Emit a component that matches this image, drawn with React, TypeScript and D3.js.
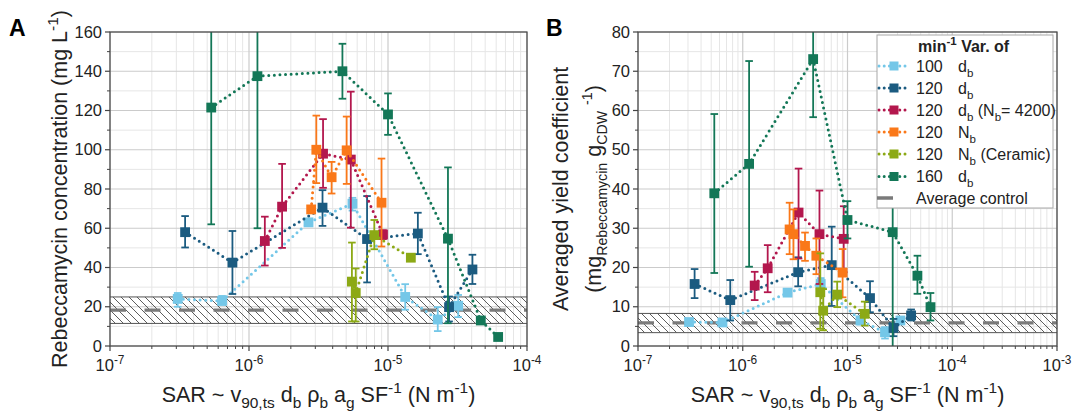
import React from 'react';
import * as d3 from 'd3';

const W = 1075;
const H = 414;
const FONT = '"Liberation Sans", Arial, sans-serif';

// SAR values (N m^-1) per series, shared by both panels
const xLightBlue = [3.07e-7, 6.4e-7, 2.68e-6, 5.55e-6, 1.33e-5, 2.28e-5, 3.2e-5];
const xDarkBlue = [3.47e-7, 7.6e-7, 3.38e-6, 7.07e-6, 1.64e-5, 2.75e-5, 4.05e-5];
const xCrimson = [1.3e-6, 1.73e-6, 3.41e-6, 5.4e-6, 9.2e-6];
const xOrange = [2.8e-6, 3.05e-6, 3.93e-6, 5.04e-6, 8.98e-6];
const xOlive = [5.5e-6, 5.86e-6, 7.97e-6, 1.46e-5];
const xGreen = [5.35e-7, 1.15e-6, 4.7e-6, 1.0e-5, 2.7e-5, 4.65e-5, 6.2e-5];

// panel A: rebeccamycin concentration (mg/L) with error bar ends
const concLightBlue = [24, 23, 63, 72.5, 25, 13.5, 20.5];
const concLightBlueLo = [20, 21, 61.5, 69, 18.5, 7.6, 14.7];
const concLightBlueHi = [27, 25.5, 64.5, 75.5, 31.5, 19.8, 26];
const concDarkBlue = [58, 42.5, 70.5, 54.5, 57.3, 19.8, 39];
const concDarkBlueLo = [50.2, 26.5, 61.2, 32.4, 46.8, 12.5, 31.6];
const concDarkBlueHi = [66.2, 58.6, 79.4, 76.4, 67.9, 25.2, 46.5];
const concCrimson = [53.5, 71, 98, 95, 56.8];
const concCrimsonLo = [41, 50, 80.6, 60.3, 54.5];
const concCrimsonHi = [65.9, 92.8, 115.6, 129.6, 59];
const concOrange = [69.6, 100, 86, 99.7, 73];
const concOrangeLo = [68, 83, 77.7, 82.6, 50.7];
const concOrangeHi = [71, 117.4, 93.8, 116.9, 95.5];
const concOlive = [32.8, 27, 56.5, 45];
const concOliveLo = [12.5, 12.5, 49.3, 44];
const concOliveHi = [52.7, 39.5, 64.2, 46];
const concGreen = [121.5, 137.5, 140, 118, 54.7, 13, 4.6];
const concGreenLo = [62, 60, 126, 107.6, 11.6, 12, 4];
const concGreenHi = [175, 175, 154, 128.7, 91, 14, 5.2];

// panel B: averaged yield coefficient
const yieldLightBlue = [6.1, 6.0, 13.6, 15.8, 6.5, 3.5, 6.5];
const yieldLightBlueLo = [5.3, 5.2, 12.9, 14.3, 5.5, 1.9, 5.6];
const yieldLightBlueHi = [6.9, 6.8, 14.3, 17.3, 7.5, 4.8, 7.4];
const yieldDarkBlue = [15.8, 11.7, 18.8, 20.6, 12.2, 4.6, 7.8];
const yieldDarkBlueLo = [12.2, 6.5, 15.2, 10.2, 8.6, 2.5, 6.5];
const yieldDarkBlueHi = [19.6, 16.8, 22.6, 30.4, 16.5, 6.9, 9.3];
const yieldCrimson = [15.4, 19.8, 34, 28.5, 27.3];
const yieldCrimsonLo = [11.7, 13.7, 22.3, 15.8, 18.8];
const yieldCrimsonHi = [18.9, 25.7, 45.2, 39.6, 35.6];
const yieldOrange = [29.7, 28.5, 25.5, 23, 18.7];
const yieldOrangeLo = [23.4, 22.1, 21.7, 18.3, 12.4];
const yieldOrangeHi = [36.5, 34.8, 28.9, 27.4, 24.7];
const yieldOlive = [13.7, 9, 13.1, 8.2];
const yieldOliveLo = [4.4, 4, 9.9, 5.2];
const yieldOliveHi = [23.6, 14.5, 16.4, 11.3];
const yieldGreen = [38.9, 46.4, 73.1, 32.1, 29, 17.9, 9.9];
const yieldGreenLo = [18.6, 20.2, 58.3, 27.4, -2, 13.3, 6.5];
const yieldGreenHi = [59.1, 72.6, 90, 36.9, 44, 23, 13.5];

// average control bands [low, mean, high]
const controlA = [11.5, 18.3, 25];
const controlB = [3.4, 5.9, 8.3];

const legendRpm = ['100', '120', '120', '120', '120', '160'];
const colors = ['#74c7e8', '#1b5b80', '#b3174d', '#fa7819', '#8ca915', '#137757'];

const series = [
  { rpm: legendRpm[0], color: colors[0], x: xLightBlue, a: [concLightBlue, concLightBlueLo, concLightBlueHi], b: [yieldLightBlue, yieldLightBlueLo, yieldLightBlueHi], label: [['d', 0], ['b', -1]] },
  { rpm: legendRpm[1], color: colors[1], x: xDarkBlue, a: [concDarkBlue, concDarkBlueLo, concDarkBlueHi], b: [yieldDarkBlue, yieldDarkBlueLo, yieldDarkBlueHi], label: [['d', 0], ['b', -1]] },
  { rpm: legendRpm[2], color: colors[2], x: xCrimson, a: [concCrimson, concCrimsonLo, concCrimsonHi], b: [yieldCrimson, yieldCrimsonLo, yieldCrimsonHi], label: [['d', 0], ['b', -1], [' (N', 0], ['b', -1], ['= 4200)', 0]] },
  { rpm: legendRpm[3], color: colors[3], x: xOrange, a: [concOrange, concOrangeLo, concOrangeHi], b: [yieldOrange, yieldOrangeLo, yieldOrangeHi], label: [['N', 0], ['b', -1]] },
  { rpm: legendRpm[4], color: colors[4], x: xOlive, a: [concOlive, concOliveLo, concOliveHi], b: [yieldOlive, yieldOliveLo, yieldOliveHi], label: [['N', 0], ['b', -1], [' (Ceramic)', 0]] },
  { rpm: legendRpm[5], color: colors[5], x: xGreen, a: [concGreen, concGreenLo, concGreenHi], b: [yieldGreen, yieldGreenLo, yieldGreenHi], label: [['d', 0], ['b', -1]] },
];

const xTitle = [['SAR ~ v', 0], ['90,ts', -1], [' d', 0], ['b', -1], [' \u03c1', 0], ['b', -1], [' a', 0], ['g', -1], [' SF', 0], ['-1', 1], [' (N m', 0], ['-1', 1], [')', 0]];
const yTitleA = [['Rebeccamycin concentration (mg L', 0], ['-1', 1], [')', 0]];
const yTitleB1 = [['Averaged yield coefficient', 0]];
const yTitleB2 = [['(mg', 0], ['Rebeccamycin', -1], [' g', 0], ['CDW', -1], [' ', 0], ['-1', 1], [')', 0]];

// text with sub/superscripts built from tspans
const rich = (parts, size, ratio = 0.72) => {
  let cur = 0;
  return parts.map(([t, k], i) => {
    const target = k === 1 ? -size * 0.42 : k === -1 ? size * 0.3 : 0;
    const dy = target - cur;
    cur = target;
    return (
      <tspan key={i} dy={dy} fontSize={k ? size * ratio : size}>{t}</tspan>
    );
  });
};

const TITLE = 21.5;

const Panel = ({ id, box, xMaxExp, yMax, yStep, key2, control, letter }) => {
  const { left, right, top, bottom } = box;
  const x = d3.scaleLog().domain([1e-7, Math.pow(10, xMaxExp)]).range([left, right]);
  const y = d3.scaleLinear().domain([0, yMax]).range([bottom, top]);
  const decades = d3.range(-7, xMaxExp + 1);
  const minorX = [];
  decades.slice(0, -1).forEach((e) => {
    for (let m = 2; m <= 9; m++) minorX.push(m * Math.pow(10, e));
  });
  const majorY = d3.range(0, yMax + 0.001, yStep);
  const minorY = d3.range(yStep / 2, yMax, yStep);
  const line = d3.line().x((d) => x(d[0])).y((d) => y(d[1]));
  const cx = (left + right) / 2;
  const cy = (top + bottom) / 2;

  return (
    <g>
      <defs>
        <clipPath id={`clip-${id}`}>
          <rect x={left} y={top} width={right - left} height={bottom - top} />
        </clipPath>
      </defs>
      <text x={letter[0]} y={letter[1]} fontSize={23} fontWeight="bold" fontFamily="Arial, 'Liberation Sans', sans-serif">{id}</text>
      {/* grid */}
      {minorY.map((v) => (
        <line key={`my${v}`} x1={left} x2={right} y1={y(v)} y2={y(v)} stroke="#e6e6e6" strokeWidth={1} />
      ))}
      {minorX.map((v, i) => (
        <line key={`mx${i}`} x1={x(v)} x2={x(v)} y1={top} y2={bottom} stroke="#e6e6e6" strokeWidth={1} />
      ))}
      {majorY.map((v) => (
        <line key={`gy${v}`} x1={left} x2={right} y1={y(v)} y2={y(v)} stroke="#cbcbcb" strokeWidth={1.2} />
      ))}
      {decades.map((e) => (
        <line key={`gx${e}`} x1={x(Math.pow(10, e))} x2={x(Math.pow(10, e))} y1={top} y2={bottom} stroke="#cbcbcb" strokeWidth={1.2} />
      ))}
      {/* control band */}
      <g clipPath={`url(#clip-${id})`}>
        <rect x={left} y={y(control[2])} width={right - left} height={y(control[0]) - y(control[2])} fill="url(#hatch)" />
        <line x1={left} x2={right} y1={y(control[2])} y2={y(control[2])} stroke="#555" strokeWidth={1} />
        <line x1={left} x2={right} y1={y(control[0])} y2={y(control[0])} stroke="#555" strokeWidth={1} />
        <line x1={left} x2={right} y1={y(control[1])} y2={y(control[1])} stroke="#7a7a7a" strokeWidth={3.2} strokeDasharray="16 18.5" />
      </g>
      {/* series */}
      <g clipPath={`url(#clip-${id})`}>
        {series.map((s, si) => {
          const [vals, lo, hi] = s[key2];
          const pts = s.x.map((xv, i) => [xv, vals[i]]);
          return (
            <g key={si}>
              <path d={line(pts)} fill="none" stroke={s.color} strokeWidth={3} strokeDasharray="0 5.6" strokeLinecap="round" />
              {s.x.map((xv, i) => (
                <g key={i} stroke={s.color} strokeWidth={1.8}>
                  <line x1={x(xv)} x2={x(xv)} y1={y(lo[i])} y2={y(hi[i])} />
                  <line x1={x(xv) - 3.8} x2={x(xv) + 3.8} y1={y(lo[i])} y2={y(lo[i])} />
                  <line x1={x(xv) - 3.8} x2={x(xv) + 3.8} y1={y(hi[i])} y2={y(hi[i])} />
                </g>
              ))}
              {s.x.map((xv, i) => (
                <rect key={`m${i}`} x={x(xv) - 4.9} y={y(vals[i]) - 4.9} width={9.8} height={9.8} fill={s.color} />
              ))}
            </g>
          );
        })}
      </g>
      {/* frame */}
      <rect x={left} y={top} width={right - left} height={bottom - top} fill="none" stroke="#444" strokeWidth={1.2} />
      {/* y axis */}
      {majorY.map((v) => (
        <g key={`ty${v}`}>
          <line x1={left - 5} x2={left} y1={y(v)} y2={y(v)} stroke="#444" strokeWidth={1.2} />
          <text x={left - 8} y={y(v) + 5.7} textAnchor="end" fontSize={16.5} fontFamily={FONT} fill="#222">{v}</text>
        </g>
      ))}
      {minorY.map((v) => (
        <line key={`tmy${v}`} x1={left - 3} x2={left} y1={y(v)} y2={y(v)} stroke="#444" strokeWidth={1} />
      ))}
      {/* x axis */}
      {decades.map((e) => (
        <g key={`tx${e}`}>
          <line x1={x(Math.pow(10, e))} x2={x(Math.pow(10, e))} y1={bottom} y2={bottom + 5} stroke="#444" strokeWidth={1.2} />
          <text x={x(Math.pow(10, e))} y={bottom + 25} textAnchor="middle" fontSize={16.5} fontFamily={FONT} fill="#222">
            {rich([['10', 0], [String(e), 1]], 16.5)}
          </text>
        </g>
      ))}
      {minorX.map((v, i) => (
        <line key={`tmx${i}`} x1={x(v)} x2={x(v)} y1={bottom} y2={bottom + 3} stroke="#444" strokeWidth={1} />
      ))}
      <text x={cx} y={402} textAnchor="middle" fontSize={TITLE} fontFamily={FONT} fill="#222">{rich(xTitle, TITLE)}</text>
      {id === 'A' ? (
        <text transform={`translate(67,${cy}) rotate(-90)`} textAnchor="middle" fontSize={TITLE} fontFamily={FONT} fill="#222">{rich(yTitleA, TITLE)}</text>
      ) : (
        <g>
          <text transform={`translate(568,${cy}) rotate(-90)`} textAnchor="middle" fontSize={TITLE} fontFamily={FONT} fill="#222">{rich(yTitleB1, TITLE)}</text>
          <text transform={`translate(601,${cy}) rotate(-90)`} textAnchor="middle" fontSize={TITLE} fontFamily={FONT} fill="#222">{rich(yTitleB2, TITLE, 0.66)}</text>
        </g>
      )}
    </g>
  );
};

const Legend = () => {
  const rows = [66, 88, 110, 132, 154, 176.5];
  return (
    <g fontFamily={FONT} fontSize={16} fill="#222">
      <rect x={877} y={35} width={176} height={173} fill="#fff" stroke="#a8a8a8" strokeWidth={1} />
      <text x={918} y={52} fontWeight="bold">{rich([['min', 0], ['-1', 1], [' Var. of', 0]], 16)}</text>
      {series.map((s, i) => (
        <g key={i}>
          <line x1={879} x2={910} y1={rows[i]} y2={rows[i]} stroke={s.color} strokeWidth={3} strokeDasharray="0 5.2" strokeLinecap="round" />
          <rect x={894 - 4.5} y={rows[i] - 4.5} width={9} height={9} fill={s.color} />
          <text x={916} y={rows[i] + 5.7}>{s.rpm}</text>
          <text x={958} y={rows[i] + 5.7}>{rich(s.label, 16)}</text>
        </g>
      ))}
      <line x1={877} x2={893} y1={198} y2={198} stroke="#7a7a7a" strokeWidth={3.5} />
      <text x={916} y={203.7}>Average control</text>
    </g>
  );
};

export default function App() {
  return (
    <svg width={W} height={H} style={{ display: 'block', position: 'absolute', left: 0, top: 0, background: '#fff' }}>
      <defs>
        <pattern id="hatch" patternUnits="userSpaceOnUse" width={8} height={8}>
          <path d="M0,0 L8,8 M-2,6 L2,10 M6,-2 L10,2" stroke="#333" strokeWidth={0.8} />
        </pattern>
      </defs>
      <rect width={W} height={H} fill="#fff" />
      <Panel id="A" box={{ left: 110, right: 527, top: 32, bottom: 346 }} xMaxExp={-4} yMax={160} yStep={20} key2="a" control={controlA} letter={[9, 36]} />
      <Panel id="B" box={{ left: 638, right: 1057, top: 32, bottom: 346 }} xMaxExp={-3} yMax={80} yStep={10} key2="b" control={controlB} letter={[546, 36]} />
      <Legend />
    </svg>
  );
}
